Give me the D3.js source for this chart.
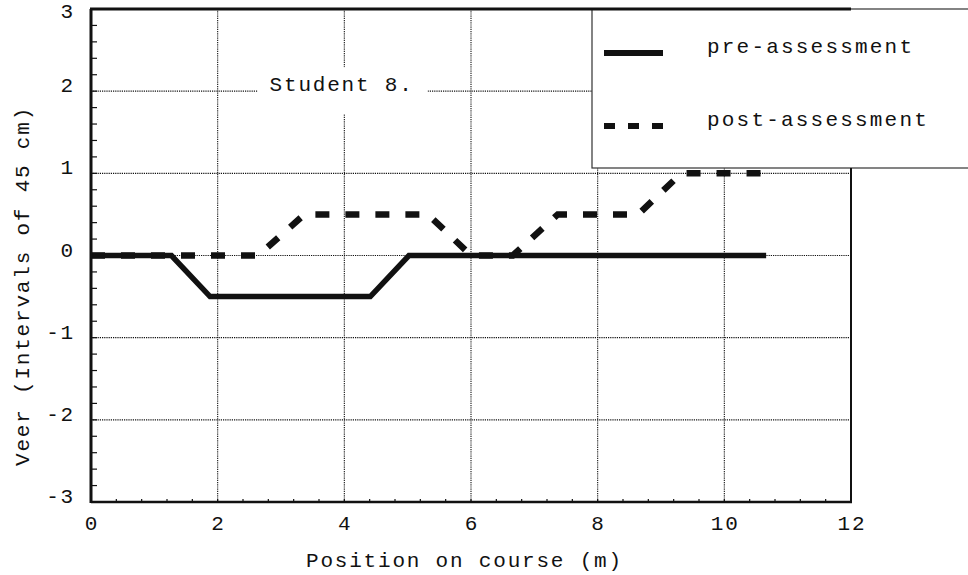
<!DOCTYPE html>
<html>
<head>
<meta charset="utf-8">
<script src="https://cdn.jsdelivr.net/npm/d3@7"></script>
<style>
  html, body { margin: 0; padding: 0; background: #fff; }
  svg text { font-family: "Liberation Mono", "DejaVu Sans Mono", monospace; fill: #111; }
</style>
</head>
<body>
<svg id="chart" width="968" height="575"></svg>
<script>
// ---- data ----
const xTicks = [0, 2, 4, 6, 8, 10, 12];
const yTicks = [-3, -2, -1, 0, 1, 2, 3];
const preX  = [0, 1.27, 1.88, 4.41, 5.02, 10.66];
const preY  = [0, 0, -0.5, -0.5, 0, 0];
const postX = [0, 2.64, 3.37, 5.32, 6.0, 6.66, 7.37, 8.64, 9.32, 10.7];
const postY = [0, 0, 0.5, 0.5, 0, 0, 0.5, 0.5, 1, 1];
const seriesNames = ["pre-assessment", "post-assessment"];
const annotation = "Student 8.";
const xTitle = "Position on course (m)";
const yTitle = "Veer   (Intervals of 45 cm)";

// ---- layout ----
const svg = d3.select("#chart");
const L = 91, R = 851, T = 9, B = 502;
const x = d3.scaleLinear().domain([0, 12]).range([L, R]);
const y = d3.scaleLinear().domain([-3, 3]).range([B, T]);
const ink = "#111";
const fs = 21, ls = 1.8;

// gridlines
const grid = svg.append("g").attr("stroke", ink).attr("stroke-width", 1.1)
  .attr("stroke-dasharray", "1.2,1");
grid.selectAll("line.v").data(xTicks.filter(d => d > 0 && d < 12)).enter()
  .append("line").attr("x1", d => x(d)).attr("x2", d => x(d)).attr("y1", T).attr("y2", B);
grid.selectAll("line.h").data(yTicks.filter(d => d > -3 && d < 3)).enter()
  .append("line").attr("x1", L).attr("x2", R).attr("y1", d => y(d)).attr("y2", d => y(d));

// minor ticks
const yMinor = d3.range(-3, 3.0001, 0.2).map(v => +v.toFixed(1));
svg.append("g").selectAll("line").data(yMinor).enter().append("line")
  .attr("x1", L).attr("x2", L + 6).attr("y1", d => y(d)).attr("y2", d => y(d))
  .attr("stroke", ink).attr("stroke-width", 1.2);
const xMinor = d3.range(0, 12.0001, 0.4).map(v => +v.toFixed(1));
svg.append("g").selectAll("line").data(xMinor).enter().append("line")
  .attr("x1", d => x(d)).attr("x2", d => x(d)).attr("y1", B).attr("y2", B - 3)
  .attr("stroke", ink).attr("stroke-width", 1.2);

// annotation with white background
const annX = x(2.82), annY = y(2);
svg.append("rect").attr("x", annX - 12).attr("y", annY - 24)
  .attr("width", 170).attr("height", 47).attr("fill", "#fff");
svg.append("text").attr("x", annX).attr("y", annY).attr("font-size", fs)
  .attr("letter-spacing", ls).text(annotation);

// data lines
const line = d3.line().x(d => x(d[0])).y(d => y(d[1]));
const preData = preX.map((v, i) => [v, preY[i]]);
const postData = postX.map((v, i) => [v, postY[i]]);
svg.append("path").datum(postData).attr("d", line)
  .attr("fill", "none").attr("stroke", ink).attr("stroke-width", 6.5)
  .attr("stroke-dasharray", "14,16").attr("stroke-dashoffset", 0)
  .attr("stroke-linejoin", "miter");
svg.append("path").datum(preData).attr("d", line)
  .attr("fill", "none").attr("stroke", ink).attr("stroke-width", 5.5)
  .attr("stroke-linejoin", "miter");

// legend box
const lg = svg.append("g");
lg.append("rect").attr("x", 592).attr("y", T).attr("width", 420).attr("height", 168 - T)
  .attr("fill", "#fff").attr("stroke", "#333").attr("stroke-width", 1.2);
const legendRows = [
  { name: seriesNames[0], yy: 53, dash: null },
  { name: seriesNames[1], yy: 126, dash: "11,13" }
];
legendRows.forEach(r => {
  lg.append("line").attr("x1", 604).attr("x2", 663).attr("y1", r.yy).attr("y2", r.yy)
    .attr("stroke", ink).attr("stroke-width", 6)
    .attr("stroke-dasharray", r.dash);
  lg.append("text").attr("x", 707).attr("y", r.yy).attr("font-size", fs)
    .attr("letter-spacing", 2.2).text(r.name);
});

// plot borders
svg.append("line").attr("x1", L - 1).attr("x2", R).attr("y1", T).attr("y2", T)
  .attr("stroke", ink).attr("stroke-width", 3);
svg.append("line").attr("x1", L).attr("x2", L).attr("y1", T).attr("y2", B + 1)
  .attr("stroke", ink).attr("stroke-width", 3);
svg.append("line").attr("x1", L).attr("x2", R + 1).attr("y1", B).attr("y2", B)
  .attr("stroke", ink).attr("stroke-width", 2.5);
svg.append("line").attr("x1", R).attr("x2", R).attr("y1", 168).attr("y2", B)
  .attr("stroke", ink).attr("stroke-width", 2);

// tick labels
svg.append("g").selectAll("text").data(xTicks).enter().append("text")
  .attr("x", d => x(d) + ls / 2).attr("y", 530).attr("text-anchor", "middle")
  .attr("font-size", fs).attr("letter-spacing", ls).text(d => d);
svg.append("g").selectAll("text").data(yTicks).enter().append("text")
  .attr("x", L - 16).attr("y", d => d === 3 ? y(d) + 9 : y(d) + 1).attr("text-anchor", "end")
  .attr("font-size", fs).attr("letter-spacing", ls).text(d => d < 0 ? "-" + Math.abs(d) : d);

// axis titles
svg.append("text").attr("x", 306).attr("y", 567).attr("font-size", fs)
  .attr("letter-spacing", ls).text(xTitle);
svg.append("text").attr("transform", "translate(29,466) rotate(-90)")
  .attr("font-size", fs).attr("letter-spacing", ls).text(yTitle);
</script>
</body>
</html>
